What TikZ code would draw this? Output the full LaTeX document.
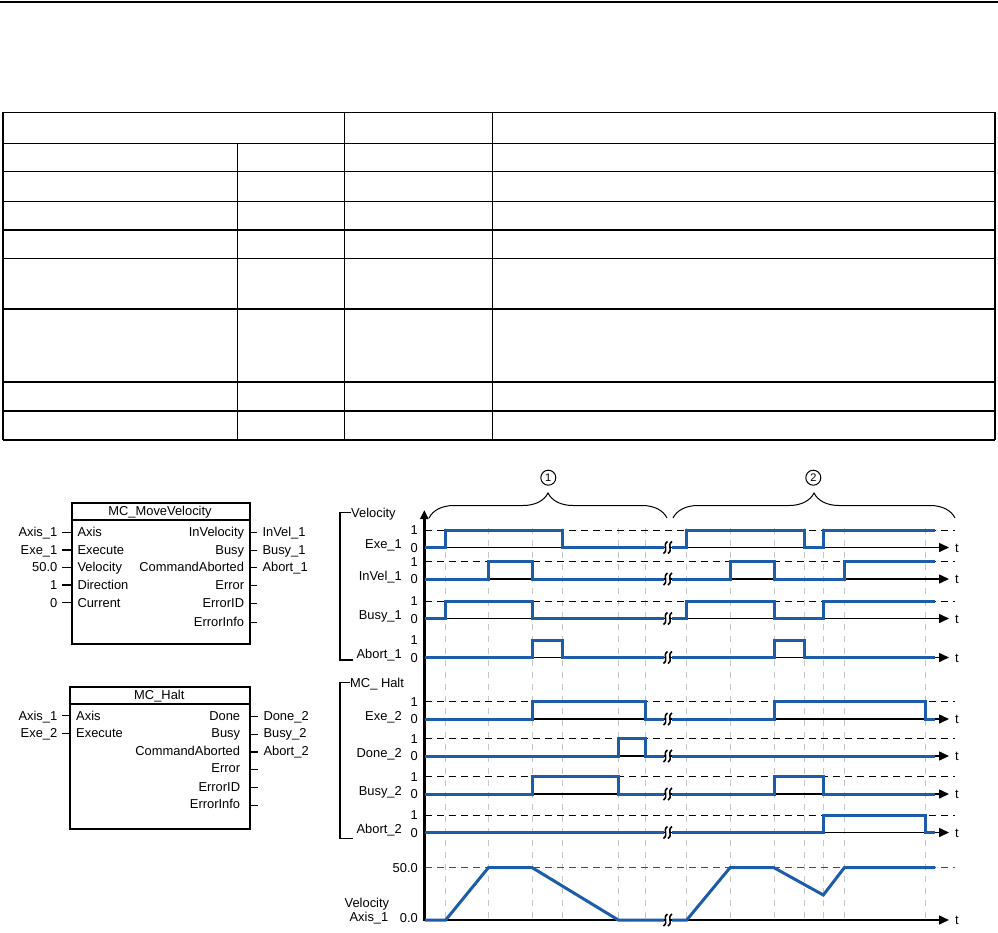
\documentclass[tikz,border=0pt]{standalone}
\usepackage{fontspec}
\setmainfont{Liberation Sans}
\usetikzlibrary{arrows.meta,decorations.pathreplacing}
\definecolor{sigblue}{RGB}{28,92,168}

\begin{document}
\begin{tikzpicture}[
    x=1pt, y=-1pt,
    every node/.style={font=\fontsize{12.9}{15}\selectfont},
    % Table and block styles
    tbl/.style={line width=1.3pt},
    fblock/.style={draw, line width=2pt, inner sep=0pt, anchor=north west},
    pin/.style={line width=1.2pt},
    txt/.style={inner sep=0pt, text height=9.2pt, text depth=0pt},
    % Timing chart styles
    sig/.style={line width=3pt, draw=sigblue},
    base/.style={line width=1.5pt},
    onedash/.style={line width=1pt, dash pattern=on 7pt off 5pt},
    tickline/.style={line width=1pt, draw=gray!45, dash pattern=on 6pt off 6pt},
    brk/.style={line width=1.6pt},
    phase/.style={circle, draw, line width=1pt, minimum size=15pt, inner sep=0pt, font=\fontsize{11}{11}\selectfont},
    grp/.style={line width=1.2pt},
    tarrow/.style={-{Triangle[length=10pt,width=9pt]}}
]
    \useasboundingbox (0,0) rectangle (998,932);

    % =========================================================================
    % 1. TOP RULE AND EMPTY TABLE
    % =========================================================================
    \draw[line width=2pt] (0,1.5) -- (998,1.5);

    \foreach \y in {112.3,143.3,171.3,201.3,230,258.3,309,382,411,440} {
        \draw[tbl] (3,\y) -- (995,\y);
    }
    \foreach \x in {3,344.5,492.5,995} {
        \draw[tbl] (\x,112.3) -- (\x,440);
    }
    \draw[tbl] (237.5,143.3) -- (237.5,440);

    % =========================================================================
    % 2. FUNCTION BLOCKS
    % =========================================================================

    % --- MC_MoveVelocity ---
    \node[fblock, minimum width=178.3pt, minimum height=141pt] (mv) at (70.7,502.3) {};
    \draw[line width=1.5pt] (mv.west |- 0,520) -- (mv.east |- 0,520);
    \node[txt] (mvtitle) at (160,511) {MC\_MoveVelocity};

    \foreach \nm/\lab/\pn/\y in {ax/Axis\_1/Axis/532.3, ex/Exe\_1/Execute/550,
                                 ve/50.0/Velocity/567.3, di/1/Direction/585,
                                 cu/0/Current/602.7} {
        \node[txt, anchor=east] (mvi\nm) at (57.5,\y) {\lab};
        \node[txt, anchor=west] (mvp\nm) at (77.3,\y) {\pn};
        \draw[pin] ([xshift=4.5pt]mvi\nm.east) -- (mvi\nm.east -| mv.west);
    }
    \foreach \nm/\pn/\y in {iv/InVelocity/532.3, bu/Busy/550, ca/CommandAborted/567.3,
                            er/Error/585, ei/ErrorID/602.7, ef/ErrorInfo/622} {
        \node[txt, anchor=east] (mvq\nm) at (244.3,\y) {\pn};
        \coordinate (mvo\nm) at (256.5,\y+0.5);
        \draw[pin] (mvo\nm -| mv.east) -- (mvo\nm);
    }
    \node[txt, anchor=west] (mvoutiv) at (262.3,532.3) {InVel\_1};
    \node[txt, anchor=west] (mvoutbu) at (262.3,550) {Busy\_1};
    \node[txt, anchor=west] (mvoutca) at (262.3,567.3) {Abort\_1};

    % --- MC_Halt ---
    \node[fblock, minimum width=180.3pt, minimum height=142.6pt] (ht) at (68.7,685.7) {};
    \draw[line width=1.5pt] (ht.west |- 0,704) -- (ht.east |- 0,704);
    \node[txt] (httitle) at (159.3,695) {MC\_Halt};

    \foreach \nm/\lab/\pn/\y in {ax/Axis\_1/Axis/715.7, ex/Exe\_2/Execute/733.3} {
        \node[txt, anchor=east] (hti\nm) at (57.5,\y) {\lab};
        \node[txt, anchor=west] (htp\nm) at (76,\y) {\pn};
        \draw[pin] ([xshift=4.5pt]hti\nm.east) -- (hti\nm.east -| ht.west);
    }
    \foreach \nm/\pn/\y in {dn/Done/715.7, bu/Busy/733.3, ca/CommandAborted/751,
                            er/Error/768.3, ei/ErrorID/786.7, ef/ErrorInfo/804.3} {
        \node[txt, anchor=east] (htq\nm) at (240.3,\y) {\pn};
        \coordinate (hto\nm) at (258.3,\y+1);
        \draw[pin] (hto\nm -| ht.east) -- (hto\nm);
    }
    \node[txt, anchor=west] (htoutdn) at (263.3,715.7) {Done\_2};
    \node[txt, anchor=west] (htoutbu) at (263.3,733.3) {Busy\_2};
    \node[txt, anchor=west] (htoutca) at (263.3,751) {Abort\_2};

    % =========================================================================
    % 3. TIMING CHART
    % =========================================================================

    % --- Phase braces ---
    \node[phase] (ph1) at (548.3,477.7) {1};
    \node[phase] (ph2) at (813.3,477.7) {2};
    \draw[line width=1pt, decorate, decoration={brace, amplitude=25pt}] (429,518) -- (667,518);
    \draw[line width=1pt, decorate, decoration={brace, amplitude=25pt}] (673,518) -- (955,518);

    % --- Time ticks ---
    \foreach \tx in {445.7,488.3,532.3,562.3,618.3,645,686.7,730,774,804.3,823.3,844.3,925.7} {
        \draw[tickline] (\tx,528) -- (\tx,921);
    }

    % --- Group brackets ---
    \node[txt, anchor=west] (grpmv) at (351,512.7) {Velocity};
    \draw[grp] (grpmv.west) -- (340,512.7) -- (340,660) -- (353,660);
    \node[txt, anchor=west] (grpht) at (350,682.7) {MC\_ Halt};
    \draw[grp] (grpht.west) -- (340,682.7) -- (340,838.3) -- (353,838.3);

    % --- Binary rows: label, levels, baseline, break ---
    \foreach \nm/\lab/\yz/\dsh in {e1/Exe\_1/547.5/1, v1/InVel\_1/579/1, b1/Busy\_1/618.5/1,
                                   a1/Abort\_1/657.5/0, e2/Exe\_2/719/1, d2/Done\_2/756/1,
                                   b2/Busy\_2/794/1, a2/Abort\_2/832.5/1} {
        \node[txt, anchor=east] (l\nm) at (402,\yz-3.5) {\lab};
        \node[txt] (one\nm) at (414.3,\yz-17.5) {1};
        \node[txt] (zero\nm) at (414.3,\yz) {0};
        \ifnum\dsh=1
            \draw[onedash] (425,\yz-17.5) -- (955,\yz-17.5);
        \fi
        \draw[base] (425,\yz) -- (665,\yz);
        \draw[base, tarrow] (671,\yz) -- (949,\yz);
        \node[txt] (t\nm) at (957,\yz) {t};
    }

    % --- Velocity row ---
    \node[txt, anchor=east] (lvel) at (389.3,902.7) {Velocity};
    \node[txt, anchor=east] (lvax) at (388.5,916.7) {Axis\_1};
    \node[txt, anchor=east] (vhigh) at (418,867.7) {50.0};
    \node[txt, anchor=east] (vlow) at (418,917.5) {0.0};
    \draw[onedash, draw=black!70] (425,867.7) -- (955,867.7);
    \draw[base] (425,920) -- (665,920);
    \draw[base, tarrow] (671,920) -- (949,920);
    \node[txt] (tvel) at (957,920) {t};

    % --- Axis ---
    \draw[line width=2.5pt, -{Triangle[length=9pt,width=8pt]}] (424.3,921) -- (424.3,510);

    % --- Signals, first phase ---
    \draw[sig] (425,547.5) -| (445.7,530) -| (562.3,547.5) -- (664,547.5);
    \draw[sig] (425,579) -| (488.3,561.5) -| (532.3,579) -- (664,579);
    \draw[sig] (425,618.5) -| (445.7,601) -| (532.3,618.5) -- (664,618.5);
    \draw[sig] (425,657.5) -| (532.3,640) -| (562.3,657.5) -- (664,657.5);
    \draw[sig] (425,719) -| (532.3,701.5) -| (645,719) -- (664,719);
    \draw[sig] (425,756) -| (618.3,738.5) -| (645,756) -- (664,756);
    \draw[sig] (425,794) -| (532.3,776.5) -| (618.3,794) -- (664,794);
    \draw[sig] (425,832.5) -- (664,832.5);
    \draw[sig] (425,920) -- (445.7,920) -- (488.3,867.7) -- (532.3,867.7) -- (618.3,920) -- (664,920);

    % --- Signals, second phase ---
    \draw[sig] (672,547.5) -| (686.7,530) -| (804.3,547.5) -| (823.3,530) -- (935,530);
    \draw[sig] (672,579) -| (730,561.5) -| (774,579) -| (844.3,561.5) -- (935,561.5);
    \draw[sig] (672,618.5) -| (686.7,601) -| (774,618.5) -| (823.3,601) -- (935,601);
    \draw[sig] (672,657.5) -| (774,640) -| (804.3,657.5) -- (935,657.5);
    \draw[sig] (672,719) -| (774,701.5) -| (925.7,719) -- (935,719);
    \draw[sig] (672,756) -- (935,756);
    \draw[sig] (672,794) -| (774,776.5) -| (823.3,794) -- (935,794);
    \draw[sig] (672,832.5) -| (823.3,815) -| (925.7,832.5) -- (935,832.5);
    \draw[sig] (672,920) -- (686.7,920) -- (730,867.7) -- (774,867.7) -- (823.3,895) -- (844.3,867.7) -- (935,867.7);

    % --- Break marks ---
    \foreach \yz in {547.5,579,618.5,657.5,719,756,794,832.5,920} {
        \foreach \bx in {665.5,670} {
            \draw[brk] (\bx-2,\yz+6) .. controls (\bx+3.5,\yz+2) and (\bx-3.5,\yz-2) .. (\bx+2,\yz-6);
        }
    }

\end{tikzpicture}
\end{document}
